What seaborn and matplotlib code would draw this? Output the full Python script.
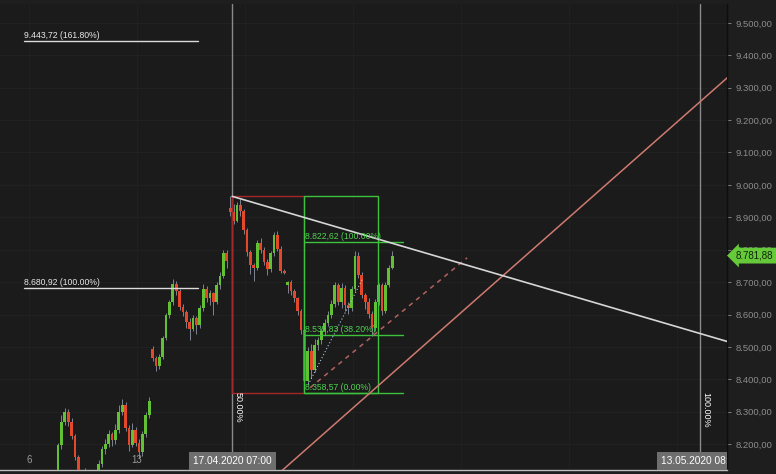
import numpy as np
import pandas as pd
import matplotlib
matplotlib.use("Agg")
import matplotlib.pyplot as plt
from matplotlib.patches import Rectangle
from matplotlib.transforms import blended_transform_factory
import seaborn as sns

# hourly candles (bar index 0..99)
opens = [8080, 8197, 8270, 8300, 8268, 8225, 8160, 8110, 8080, 8105,
         8070, 8062, 8100, 8140, 8185, 8200, 8230, 8212, 8245, 8300,
         8322, 8250, 8198, 8245, 8205, 8175, 8230, 8290,
         8495, 8465, 8440, 8470, 8528, 8598, 8638, 8695, 8672, 8622,
         8608, 8578, 8555, 8590, 8568, 8620, 8680, 8650, 8665, 8640,
         8690, 8720, 8790,
         8930, 8915, 8890, 8938, 8918, 8860, 8792, 8752, 8745, 8820,
         8800, 8762, 8740, 8790, 8845, 8802, 8735, 8690, 8700, 8672,
         8650, 8612, 8552, 8395, 8488, 8430, 8505, 8520, 8548, 8575,
         8600, 8632, 8690, 8640, 8682, 8630, 8620, 8680, 8782, 8722,
         8660, 8640, 8602, 8560, 8640, 8690, 8612, 8692, 8745]
highs = [8205, 8290, 8312, 8310, 8280, 8232, 8168, 8118, 8128, 8112,
         8085, 8120, 8150, 8195, 8215, 8245, 8238, 8262, 8320, 8338,
         8330, 8258, 8265, 8252, 8215, 8240, 8300, 8345,
         8502, 8472, 8478, 8535, 8605, 8645, 8710, 8705, 8680, 8632,
         8615, 8590, 8598, 8595, 8628, 8695, 8688, 8675, 8670, 8700,
         8730, 8800, 8798,
         8964.7, 8940, 8948, 8955, 8925, 8866, 8800, 8760, 8830, 8835,
         8808, 8770, 8795, 8855, 8858, 8810, 8740, 8705, 8708, 8680,
         8655, 8618, 8560, 8500, 8510, 8525, 8530, 8560, 8585, 8610,
         8645, 8700, 8698, 8698, 8690, 8640, 8688, 8796, 8792, 8730,
         8668, 8650, 8610, 8648, 8698, 8698, 8700, 8752, 8795]
lows = [8070, 8185, 8258, 8255, 8215, 8150, 8100, 8065, 8070, 8060,
        8050, 8055, 8092, 8130, 8170, 8190, 8195, 8200, 8235, 8290,
        8240, 8180, 8190, 8195, 8158, 8165, 8222, 8280,
        8458, 8425, 8432, 8462, 8520, 8590, 8630, 8660, 8615, 8595,
        8560, 8520, 8548, 8540, 8560, 8612, 8640, 8630, 8598, 8632,
        8680, 8712, 8745,
        8905, 8880, 8885, 8905, 8850, 8780, 8725, 8705, 8738, 8790,
        8752, 8722, 8732, 8782, 8795, 8728, 8724, 8665, 8660, 8640,
        8600, 8540, 8358.57, 8385, 8405, 8422, 8490, 8510, 8538, 8565,
        8590, 8622, 8628, 8620, 8612, 8602, 8612, 8672, 8712, 8650,
        8618, 8590, 8535, 8550, 8630, 8600, 8605, 8685, 8740]
closes = [8197, 8270, 8300, 8268, 8225, 8160, 8110, 8080, 8105, 8070,
          8062, 8100, 8140, 8185, 8200, 8230, 8212, 8245, 8300, 8322,
          8250, 8198, 8245, 8205, 8175, 8230, 8290, 8332,
          8465, 8440, 8470, 8528, 8598, 8638, 8695, 8672, 8622, 8608,
          8578, 8555, 8590, 8568, 8620, 8680, 8650, 8665, 8640, 8690,
          8720, 8790, 8765,
          8915, 8890, 8938, 8918, 8860, 8792, 8752, 8745, 8820, 8800,
          8762, 8740, 8790, 8845, 8802, 8735, 8728, 8700, 8672, 8650,
          8612, 8552, 8395, 8488, 8430, 8505, 8520, 8548, 8575, 8600,
          8632, 8690, 8640, 8682, 8630, 8620, 8680, 8782, 8722, 8660,
          8640, 8602, 8560, 8640, 8690, 8612, 8692, 8745, 8781.88]

# drawing tools (bar index, price)
trend_white = ([51.6, 230.0], [8964.7, 8420.0])
trend_pink = ([65.2, 230.0], [8108.0, 9622.0])
trend_pink_dashed = ([74.7, 121.2], [8374.3, 8775.0])
trend_dotted = ([74.1, 90.1], [8383.5, 8707.7])

fib_left_x = [-10.1, 41.5]
fib_left_levels = [9443.72, 8680.92]
fib_left_pct = ["161.80%", "100.00%"]

fib_box_x = [51.6, 72.9, 94.8, 102.2]
fib_box_levels = [8822.62, 8535.83, 8358.57]
fib_box_pct = ["100.00%", "38.20%", "0.00%"]
box_top = 8964.7

time_lines = [51.6, 190.2]
time_line_pct = ["50.00%", "100.00%"]
time_labels = ["17.04.2020 07:00", "13.05.2020 08:00"]
day_ticks = [-8.6, 23.4]
day_labels = ["6", "13"]
price_ticks = list(range(8200, 9501, 100))
last_price = 8781.88


def fmt(v):
    s = f"{v:,.2f}"
    return s.replace(",", "X").replace(".", ",").replace("X", ".")


sns.set_theme(style="dark", rc={"axes.facecolor": "#1b1b1b",
                                "figure.facecolor": "#1e1e1e"})
plt.rcParams["font.family"] = ["Liberation Sans", "DejaVu Sans"]

fig = plt.figure(figsize=(7.76, 4.74), dpi=100)
ax = fig.add_axes([0, 4 / 474, 727 / 776, 466 / 474])

df = pd.DataFrame({"open": opens, "high": highs, "low": lows, "close": closes})
df["idx"] = np.arange(len(df))
up = df["close"] >= df["open"]

# faint grid
for p in price_ticks:
    ax.axhline(p, color="#232323", lw=0.6, zorder=0)
for d in [-8.6, 23.4, 55.4, 87.4, 119.4, 151.4, 183.4]:
    ax.axvline(d, color="#222222", lw=0.6, zorder=0)

# candles
ax.vlines(df["idx"], df["low"], df["high"], color="#8d96a3", lw=0.6, zorder=2)
body = (df["close"] - df["open"]).abs().clip(lower=3)
ax.bar(df["idx"], body, bottom=df[["open", "close"]].min(axis=1), width=0.82,
       color=np.where(up, "#62c034", "#e4482b"), edgecolor="none", zorder=3)

# time lines
for x, pct in zip(time_lines, time_line_pct):
    ax.axvline(x, color="#8a8a8a", lw=1, zorder=1)
    ax.text(x + 0.3, 8362, pct, rotation=270, ha="left", va="top",
            color="white", fontsize=6.5, zorder=6)

# boxes
ax.add_patch(Rectangle((fib_box_x[0], fib_box_levels[2]), fib_box_x[1] - fib_box_x[0],
                       box_top - fib_box_levels[2], fill=False, ec="#a52828", lw=1, zorder=4))
ax.add_patch(Rectangle((fib_box_x[1], fib_box_levels[2]), fib_box_x[2] - fib_box_x[1],
                       box_top - fib_box_levels[2], fill=False, ec="#3ec23e", lw=1, zorder=4))
for lvl, pct in zip(fib_box_levels, fib_box_pct):
    ax.plot([fib_box_x[1], fib_box_x[3]], [lvl, lvl], color="#3ec23e", lw=1, zorder=4)
    ax.text(fib_box_x[1] + 0.4, lvl + 4, f"{fmt(lvl)} ({pct})", color="#4fd24f",
            fontsize=6.2, ha="left", va="bottom", zorder=6)

for lvl, pct in zip(fib_left_levels, fib_left_pct):
    ax.plot(fib_left_x, [lvl, lvl], color="#dcdcdc", lw=1, zorder=4)
    ax.text(fib_left_x[0], lvl + 4, f"{fmt(lvl)} ({pct})", color="#e8e8e8",
            fontsize=6.2, ha="left", va="bottom", zorder=6)

# trend lines
sns.lineplot(x=trend_pink[0], y=trend_pink[1], ax=ax, color="#cf7a70", lw=1.1, zorder=4)
sns.lineplot(x=trend_white[0], y=trend_white[1], ax=ax, color="#d6d6d6", lw=1.2, zorder=5)
sns.lineplot(x=trend_pink_dashed[0], y=trend_pink_dashed[1], ax=ax, color="#b4625e",
             lw=1.1, linestyle=(0, (3, 3)), zorder=4)
sns.lineplot(x=trend_dotted[0], y=trend_dotted[1], ax=ax, color="#a9c8dc",
             lw=0.8, linestyle=(0, (1, 2)), zorder=4)

ax.set_xlim(-17.19, 198.2)
ax.set_ylim(8120.4, 9558.1)

# price axis on the right
ax.yaxis.tick_right()
ax.set_yticks(price_ticks, [fmt(p) for p in price_ticks])
ax.tick_params(axis="y", colors="#8c8c8c", labelsize=6.8, length=3, pad=3,
               direction="out", width=0.6)
ax.set_xticks(day_ticks, day_labels)
ax.tick_params(axis="x", direction="in", length=3, pad=-11, colors="#9a9a9a",
               labelsize=7, width=0.8)
ax.set_xticks(time_lines, minor=True)
ax.tick_params(axis="x", which="minor", direction="in", length=2, color="white",
               bottom=True)
ax.set_xlabel("")
ax.set_ylabel("")
for side in ["top", "left"]:
    ax.spines[side].set_visible(False)
ax.spines["bottom"].set_color("#bdbdbd")
ax.spines["bottom"].set_linewidth(1)
ax.spines["right"].set_color("#0e0e0e")
ax.spines["right"].set_linewidth(1)
ax.grid(False)

# date boxes on the time axis
tr = blended_transform_factory(ax.transData, ax.transAxes)
for x, lab in zip(time_lines, time_labels):
    t = ax.text(x, 0.019, lab, transform=tr, ha="center", va="center",
                color="white", fontsize=7.3, zorder=7,
                bbox=dict(boxstyle="square,pad=0.4", fc="#6e6e6e", ec="none"))
    t.set_clip_on(True)

# last price tag
tr2 = blended_transform_factory(ax.transAxes, ax.transData)
ax.text(1.012, last_price, fmt(last_price), transform=tr2, ha="left", va="center",
        color="#10240a", fontsize=7, zorder=8, clip_on=False,
        bbox=dict(boxstyle="larrow,pad=0.3", fc="#66c93a", ec="none"))

fig.savefig("out.png", dpi=100, facecolor=fig.get_facecolor())
